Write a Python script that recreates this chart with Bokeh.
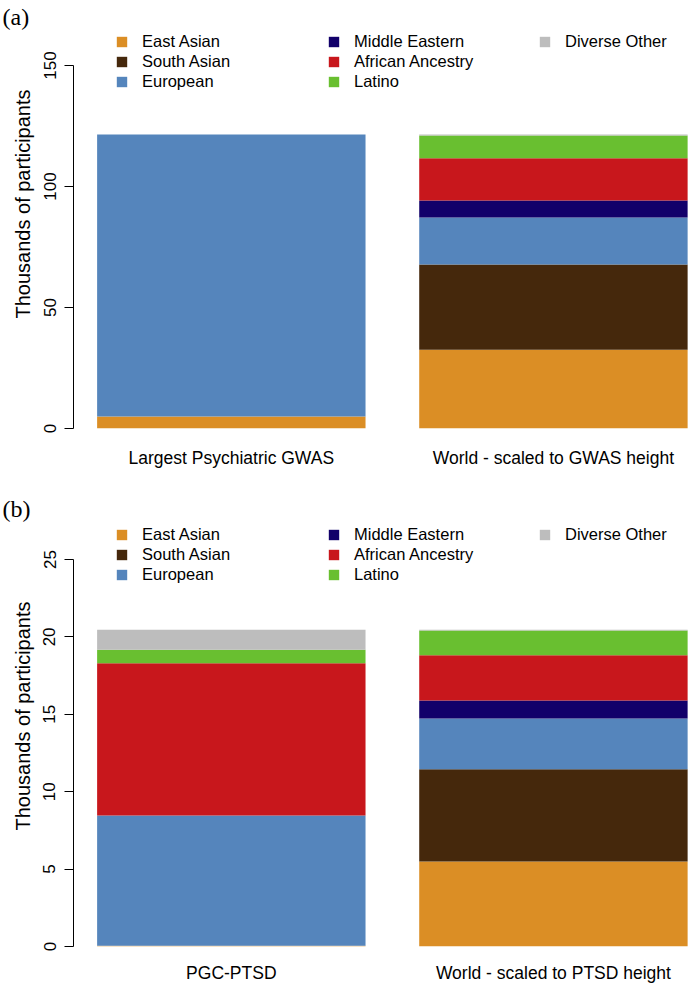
from bokeh.plotting import figure
from bokeh.models import (ColumnDataSource, Range1d, FixedTicker, Legend, LegendItem, Title)
from bokeh.layouts import column
from bokeh.embed import file_html
from bokeh.resources import INLINE

# ---------------- data (thousands of participants) ----------------
ancestries = ["East Asian", "South Asian", "European", "Middle Eastern",
              "African Ancestry", "Latino", "Diverse Other"]
colors = ["#DB8E25", "#45280C", "#5585BC", "#12006A", "#C8171C", "#69BF30", "#BDBDBD"]

# panel (a)
categories_a = ["Largest Psychiatric GWAS", "World - scaled to GWAS height"]
a_gwas = [5.0, 0.0, 116.5, 0.0, 0.0, 0.0, 0.0]
a_world = [32.5, 35.3, 19.4, 7.0, 17.5, 9.4, 0.4]
ticks_a = [0, 50, 100, 150]

# panel (b)
categories_b = ["PGC-PTSD", "World - scaled to PTSD height"]
b_pgc = [0.05, 0.0, 8.41, 0.0, 9.84, 0.87, 1.29]
b_world = [5.49, 5.96, 3.28, 1.16, 2.93, 1.59, 0.05]
ticks_b = [0, 5, 10, 15, 20, 25]

FONT = "Liberation Sans"
X_START, X_END = 0.112, 2.407


def make_panel(tag, categories, bars, yticks, px_per_unit, frame_h, border_top,
               border_bottom, tag_standoff, ylab_offset, legend_top, label_standoff):
    # barplot-style positions: width 1, space 0.2
    xs = [round(0.7 + 1.2 * i, 3) for i in range(len(categories))]
    keys = ["s%d" % i for i in range(len(ancestries))]
    data = {"x": xs}
    for i, k in enumerate(keys):
        data[k] = [bar[i] for bar in bars]
    src = ColumnDataSource(data)

    p = figure(frame_width=616, frame_height=frame_h, output_backend="svg",
               toolbar_location=None,
               x_range=Range1d(X_START, X_END), y_range=Range1d(0, frame_h / px_per_unit),
               min_border_left=73, min_border_right=0, min_border_top=border_top,
               min_border_bottom=border_bottom)
    p.outline_line_color = None
    p.grid.visible = False
    p.background_fill_color = "white"

    rends = p.vbar_stack(keys, x="x", width=1.0, source=src, color=colors,
                         line_color=None)

    # y axis (R style: line only between first and last tick)
    ya = p.yaxis[0]
    ya.ticker = FixedTicker(ticks=yticks)
    ya.bounds = (yticks[0], yticks[-1])
    ya.major_label_orientation = "vertical"
    ya.major_label_text_font = FONT
    ya.major_label_text_font_size = "17px"
    ya.major_label_text_color = "black"
    ya.major_label_standoff = 9
    ya.major_tick_out = 9
    ya.major_tick_in = 0
    ya.minor_tick_line_color = None
    ya.axis_line_color = "black"
    ya.major_tick_line_color = "black"

    # y axis title, placed along the axis like the original
    p.add_layout(Title(text="Thousands of participants", align="left",
                       offset=ylab_offset, standoff=13, text_font=FONT,
                       text_font_size="20px", text_font_style="normal",
                       text_color="black"), "left")

    # x axis: category names only
    xa = p.xaxis[0]
    xa.ticker = FixedTicker(ticks=xs)
    xa.major_label_overrides = {x: c for x, c in zip(xs, categories)}
    xa.axis_line_color = None
    xa.major_tick_line_color = None
    xa.major_tick_out = 0
    xa.major_tick_in = 0
    xa.minor_tick_line_color = None
    xa.major_label_text_font = FONT
    xa.major_label_text_font_size = "17.5px"
    xa.major_label_text_color = "black"
    xa.major_label_standoff = label_standoff

    # panel tag in the top-left corner
    p.add_layout(Title(text=tag, align="left", offset=-71, standoff=tag_standoff,
                       text_font="Liberation Serif", text_font_size="24px",
                       text_font_style="normal", text_color="black"), "above")

    # legend in three columns
    cols = [[0, 1, 2], [3, 4, 5], [6]]
    col_x = [42, 254, 465]
    for col, cx in zip(cols, col_x):
        items = [LegendItem(label=ancestries[i], renderers=[rends[i]]) for i in col]
        leg = Legend(items=items, location=(cx, frame_h - legend_top - 20 * len(col)),
                     margin=0, padding=0, spacing=0, label_height=20,
                     glyph_width=13, glyph_height=13, label_standoff=14,
                     label_text_font=FONT, label_text_font_size="16.5px",
                     label_text_color="black",
                     border_line_color=None, background_fill_alpha=0)
        p.add_layout(leg)
    return p


pa = make_panel("(a)", categories_a, [a_gwas, a_world], ticks_a, 2.42,
                397, 31, 52, 3, 110, 0, 19)
pb = make_panel("(b)", categories_b, [b_pgc, b_world], ticks_b, 15.48,
                422, 44, 39, 6, 116, 0, 16)

layout = column(pa, pb)
open("out.html", "w").write(file_html(layout, INLINE))
